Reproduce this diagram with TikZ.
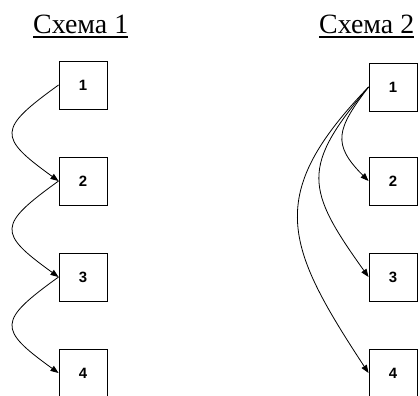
\documentclass[tikz,border=0pt]{standalone}
\usepackage{fontspec}
\setmainfont{Liberation Serif}
\newfontfamily\numfont{Liberation Sans}
\usetikzlibrary{arrows.meta}
\begin{document}
\begin{tikzpicture}[x=1bp,y=-1bp,
  stagebox/.style={draw,line width=0.9bp,minimum size=48bp,inner sep=0pt},
  titletext/.style={inner sep=0pt,anchor=base west,font=\fontsize{28}{28}\selectfont},
  link/.style={line width=0.8bp,-{Triangle[length=8bp,width=6bp]}},
  uline/.style={line width=1.1bp}]
\newcommand\digitlabel[1]{{\numfont\bfseries\fontsize{15}{15}\selectfont #1}}
\useasboundingbox (0,0) rectangle (420,396);
% titles
\node[titletext] (T1) at (33,33) {Схема 1};
\node[titletext] (T2) at (319,33) {Схема 2};
\draw[uline] ([yshift=-4bp]T1.base west) -- ([yshift=-4bp]T1.base east);
\draw[uline] ([yshift=-4bp]T2.base west) -- ([yshift=-4bp]T2.base east);
% scheme 1
\node[stagebox] (L1) at (83,85) {\digitlabel{1}};
\node[stagebox] (L2) at (83,181) {\digitlabel{2}};
\node[stagebox] (L3) at (83,277) {\digitlabel{3}};
\node[stagebox] (L4) at (83,373) {\digitlabel{4}};
\draw[link] (L1.west) .. controls +(-61,44) and +(-61,-44) .. (L2.west);
\draw[link] (L2.west) .. controls +(-61,44) and +(-61,-44) .. (L3.west);
\draw[link] (L3.west) .. controls +(-61,44) and +(-61,-44) .. (L4.west);
% scheme 2
\node[stagebox] (R1) at (393,87) {\digitlabel{1}};
\node[stagebox] (R2) at (393,181) {\digitlabel{2}};
\node[stagebox] (R3) at (393,277) {\digitlabel{3}};
\node[stagebox] (R4) at (393,373) {\digitlabel{4}};
\draw[link] (R1.west) .. controls +(-32,42) and +(-37,-37) .. (R2.west);
\draw[link] (R1.west) .. controls +(-68,80) and +(-63,-88) .. (R3.west);
\draw[link] (R1.west) .. controls +(-104,108) and +(-84,-128) .. (R4.west);
\end{tikzpicture}
\end{document}
